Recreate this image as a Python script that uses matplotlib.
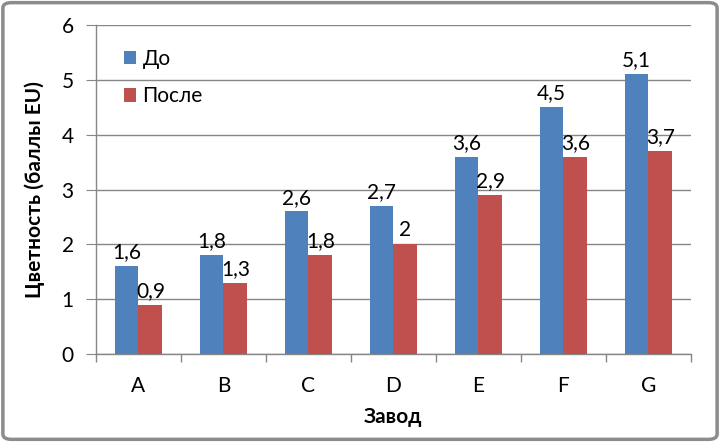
import matplotlib
matplotlib.use("Agg")
import matplotlib.pyplot as plt
from matplotlib.patches import FancyBboxPatch
import numpy as np

plt.rcParams['font.family'] = ['Lato', 'DejaVu Sans']

categories = ["A", "B", "C", "D", "E", "F", "G"]
before = [1.6, 1.8, 2.6, 2.7, 3.6, 4.5, 5.1]
after = [0.9, 1.3, 1.8, 2.0, 2.9, 3.6, 3.7]
series_names = ["До", "После"]
colors = ["#4F81BD", "#C0504D"]

FS = 15

fig = plt.figure(figsize=(7.2, 4.42), dpi=100)
ax = fig.add_axes([0.1333, 0.1991, 0.8264, 0.7443])

x = np.arange(len(categories))
w = 0.28
ax.bar(x - w/2, before, w, color=colors[0], label=series_names[0], zorder=3)
ax.bar(x + w/2, after, w, color=colors[1], label=series_names[1], zorder=3)

def fmt(v):
    return ("%g" % v).replace(".", ",")

for xi, v in zip(x, before):
    ax.text(xi - w/2, v + 0.07, fmt(v), ha="center", va="bottom", fontsize=FS, zorder=4)
for xi, v in zip(x, after):
    ax.text(xi + w/2, v + 0.07, fmt(v), ha="center", va="bottom", fontsize=FS, zorder=4)

ax.set_xlim(-0.5, len(categories) - 0.5)
ax.set_ylim(0, 6)
ax.set_yticks(range(0, 7))
ax.set_xticks(x)
ax.set_xticklabels(categories)
ax.set_xticks(np.arange(-0.5, len(categories), 1), minor=True)
ax.tick_params(axis="x", which="major", length=0, labelsize=FS, pad=16)
ax.tick_params(axis="x", which="minor", length=6, color="#868686", width=1)
ax.tick_params(axis="y", length=7, color="#868686", labelsize=FS, pad=9)
ax.grid(axis="y", color="#868686", linewidth=1, zorder=0)
for s in ["top", "right"]:
    ax.spines[s].set_visible(False)
for s in ["left", "bottom"]:
    ax.spines[s].set_color("#868686")
    ax.spines[s].set_linewidth(1)

ax.set_xlabel("Завод", fontsize=FS, fontweight="bold", labelpad=8)
ax.set_ylabel("Цветность (баллы EU)", fontsize=FS, fontweight="bold", labelpad=12)

leg = ax.legend(loc="upper left", bbox_to_anchor=(0.015, 0.985), frameon=False,
                fontsize=FS, handlelength=0.6, handleheight=0.6, handletextpad=0.3,
                labelspacing=0.85)

border = FancyBboxPatch((0.004, 0.006), 0.992, 0.988, boxstyle="round,pad=0,rounding_size=0.012",
                        transform=fig.transFigure, facecolor="none", edgecolor="#8c8c8c",
                        linewidth=2.5, zorder=10)
fig.patches.append(border)

fig.savefig("out.png", dpi=100)
